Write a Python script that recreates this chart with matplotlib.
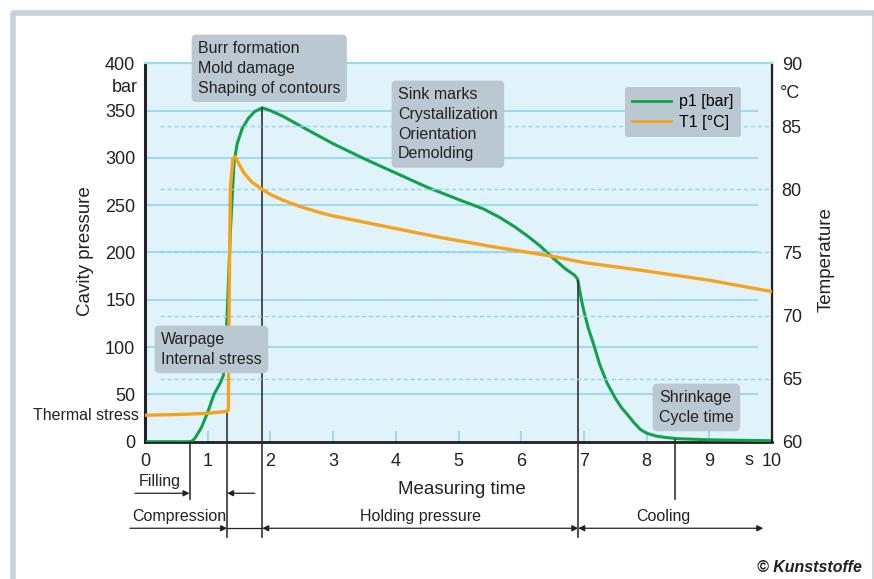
import numpy as np
import matplotlib
matplotlib.use("Agg")
import matplotlib.pyplot as plt
from matplotlib.lines import Line2D

plt.rcParams['font.family'] = ['Liberation Sans', 'DejaVu Sans']

# ---- data ----
p1_t = [0, 0.7, 0.75, 0.8, 0.9, 1.0, 1.1, 1.2, 1.25, 1.28, 1.32, 1.36, 1.42,
        1.47, 1.55, 1.65, 1.75, 1.87, 2.0, 2.2, 2.5, 2.75, 3.0, 3.5, 4.0,
        4.5, 5.0, 5.4, 5.66, 5.9, 6.09, 6.3, 6.51, 6.7, 6.85, 6.9, 6.92,
        6.96, 7.0, 7.07, 7.15, 7.25, 7.37, 7.5, 7.6, 7.69, 7.8, 7.9, 8.0,
        8.15, 8.3, 8.5, 9.0, 10.0]
p1_bar = [0, 0, 0.5, 4, 15, 31, 50, 62, 70, 90, 150, 220, 295,
          315, 331, 342, 349, 353, 350, 344, 333, 324, 315, 299, 284,
          269, 256, 246, 237, 227, 218, 207, 194, 183, 176, 172, 165,
          150, 138, 120, 104, 82, 62, 46, 36, 29, 20, 13, 9,
          6, 4.5, 3.2, 2, 1]

t1_t = [0, 0.5, 1.0, 1.3, 1.33, 1.34, 1.36, 1.40, 1.44, 1.50, 1.58, 1.7,
        1.87, 2.0, 2.2, 2.5, 2.8, 3.0, 3.5, 4.0, 4.7, 5.5, 6.5, 7.0, 7.9,
        9.0, 10.0]
t1_degC = [62.1, 62.15, 62.25, 62.4, 62.5, 70, 80, 82.4, 82.6, 82.0, 81.3, 80.6,
           80.0, 79.6, 79.15, 78.6, 78.15, 77.9, 77.4, 76.9, 76.2, 75.5, 74.7,
           74.2, 73.6, 72.8, 71.9]

p_ticks = [0, 50, 100, 150, 200, 250, 300, 350, 400]
temp_ticks = [60, 65, 70, 75, 80, 85, 90]
time_ticks = [0, 1, 2, 3, 4, 5, 6, 7, 8, 9, 10]

# phase boundaries (s) and where their marker lines start / end (bar)
phase_t = [0.71, 1.31, 1.87, 6.91, 8.46]
phase_top = [0, 32, 353, 170, 2]
phase_bottom = [-61, -101, -101, -101, -61]

GREEN = '#12a14b'
ORANGE = '#f5a31e'
BG = '#e1f3fa'
GRID = '#8dd5f2'
BOX = '#bac9d1'
TXT = '#222222'
FRAME = '#c3d2db'

W, H = 874, 579
fig = plt.figure(figsize=(W / 100, H / 100), dpi=100)


def fx(x):
    return x / W


def fy(y):
    return 1 - y / H


# outer frame: thick left/top, thin right
fig.lines.append(Line2D([fx(12.5), fx(12.5), fx(874)], [fy(579), fy(12.5), fy(12.5)],
                        transform=fig.transFigure, color=FRAME, lw=4, zorder=0))
fig.lines.append(Line2D([fx(873), fx(873)], [fy(14), fy(579)],
                        transform=fig.transFigure, color=FRAME, lw=1.2, zorder=0))

ax = fig.add_axes([fx(145), fy(441.7), fx(772) - fx(145), fy(63.3) - fy(441.7)])
ax.set_facecolor(BG)
ax.set_xlim(0, 10)
ax.set_ylim(0, 400)
ax2 = ax.twinx()
ax2.set_ylim(60, 90)

# grid
ax.hlines(p_ticks[1:-1], 0, 9.78, colors=GRID, lw=1.2, zorder=1)
ax2.hlines(temp_ticks[1:-1], 0.24, 10, colors=GRID, lw=1.0, linestyles=(0, (3, 2)), zorder=1)

# curves
ax.plot(p1_t, p1_bar, color=GREEN, lw=2.2, zorder=3, label='p1 [bar]')
ax2.plot(t1_t, t1_degC, color=ORANGE, lw=2.4, zorder=3, label='T1 [°C]')

# spines and ticks
for a in (ax, ax2):
    a.spines['top'].set_color('#9fd9ee')
    a.spines['top'].set_linewidth(1.5)
    for s in ('left', 'bottom', 'right'):
        a.spines[s].set_color('#222222')
ax.spines['left'].set_linewidth(2.2)
ax.spines['bottom'].set_linewidth(2.0)
ax2.spines['right'].set_linewidth(1.6)

ax.set_xticks(time_ticks)
ax.set_xticklabels([str(v) for v in time_ticks])
ax.tick_params(axis='x', direction='in', length=8, width=1.2, color=GRID,
               labelsize=13, pad=8, labelcolor=TXT)
ax.set_yticks(p_ticks)
ax.tick_params(axis='y', length=0, labelsize=13, pad=7, labelcolor=TXT)
ax2.set_yticks(temp_ticks)
ax2.tick_params(axis='y', length=0, labelsize=13, pad=7, labelcolor=TXT)

fig.text(fx(138), fy(87), 'bar', ha='right', va='center', fontsize=13, color=TXT)
fig.text(fx(780), fy(93), '°C', ha='left', va='center', fontsize=13, color=TXT)
ax.text(9.63, -19.5, 's', ha='center', va='center', fontsize=13, color=TXT, clip_on=False)

fig.text(fx(85), fy(251), 'Cavity pressure', rotation=90, ha='center', va='center',
         fontsize=13.5, color=TXT)
fig.text(fx(826), fy(260), 'Temperature', rotation=90, ha='center', va='center',
         fontsize=13.5, color=TXT)
fig.text(fx(139), fy(415), 'Thermal stress', ha='right', va='center', fontsize=11.5, color=TXT)

# annotation boxes
boxes = [
    (198, 50, 'Burr formation\nMold damage\nShaping of contours'),
    (398, 96, 'Sink marks\nCrystallization\nOrientation\nDemolding'),
    (161, 341, 'Warpage\nInternal stress'),
    (659, 399, 'Shrinkage\nCycle time'),
]
for x, y, s in boxes:
    fig.text(fx(x), fy(y - 9), s, ha='left', va='top', fontsize=11.5, color=TXT,
             linespacing=1.4, zorder=10,
             bbox=dict(boxstyle='round,pad=0.4,rounding_size=0.3', fc=BOX, ec='none'))

# legend
leg = ax2.legend(handles=ax.get_lines() + ax2.get_lines(), loc='upper right',
                 bbox_to_anchor=(fx(741), fy(87)), bbox_transform=fig.transFigure,
                 frameon=True, fontsize=11.5, handlelength=2.4, labelspacing=0.35,
                 borderpad=0.45, handletextpad=0.55, borderaxespad=0)
leg.get_frame().set_facecolor(BOX)
leg.get_frame().set_edgecolor('none')
leg.get_frame().set_alpha(1)
for ln in leg.get_lines():
    ln.set_linewidth(2)

# phase markers below the axis
for t, top, bot in zip(phase_t, phase_top, phase_bottom):
    ax.plot([t, t], [top, bot], color='#333333', lw=1.2, clip_on=False, zorder=4)

arrow = dict(arrowstyle='-|>', mutation_scale=9, lw=0.9, color=TXT, shrinkA=0, shrinkB=0)
darrow = dict(arrowstyle='<|-|>', mutation_scale=9, lw=0.9, color=TXT, shrinkA=0, shrinkB=0)
y_fill, y_comp = -54.5, -91.5
ax.annotate('', xy=(phase_t[0], y_fill), xytext=(-0.16, y_fill), arrowprops=arrow, annotation_clip=False)
ax.annotate('', xy=(phase_t[1], y_fill), xytext=(1.75, y_fill), arrowprops=arrow, annotation_clip=False)
ax.annotate('', xy=(phase_t[1], y_comp), xytext=(-0.24, y_comp), arrowprops=arrow, annotation_clip=False)
ax.plot([phase_t[1], phase_t[2]], [y_comp, y_comp], color=TXT, lw=0.9, clip_on=False)
ax.annotate('', xy=(phase_t[2], y_comp), xytext=(phase_t[3], y_comp), arrowprops=darrow, annotation_clip=False)
ax.annotate('', xy=(phase_t[3], y_comp), xytext=(9.86, y_comp), arrowprops=darrow, annotation_clip=False)

ax.text(-0.1, -42, 'Filling', ha='left', va='center', fontsize=11.5, color=TXT, clip_on=False)
ax.text(-0.21, -79, 'Compression', ha='left', va='center', fontsize=11.5, color=TXT, clip_on=False)
ax.text(4.39, -79, 'Holding pressure', ha='center', va='center', fontsize=11.5, color=TXT, clip_on=False)
ax.text(8.26, -79, 'Cooling', ha='center', va='center', fontsize=11.5, color=TXT, clip_on=False)
ax.text(5.06, -50, 'Measuring time', ha='center', va='center', fontsize=13.5, color=TXT, clip_on=False)

fig.text(fx(862), fy(567), '© Kunststoffe', ha='right', va='center', fontsize=11.5,
         fontweight='bold', fontstyle='italic', color=TXT)

fig.savefig('out.png', dpi=100)
